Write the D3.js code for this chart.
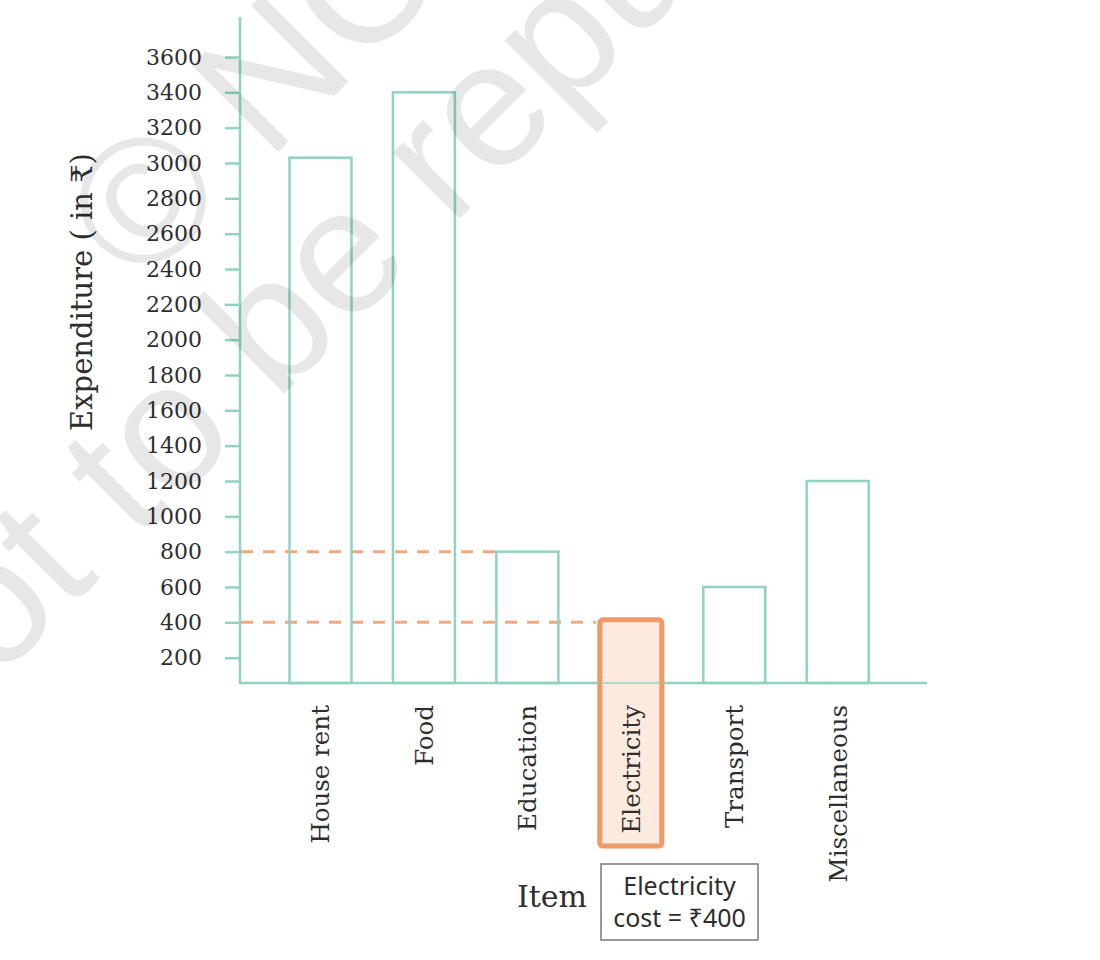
<!DOCTYPE html>
<html>
<head>
<meta charset="utf-8">
<script src="https://cdn.jsdelivr.net/npm/d3@7"></script>
<style>
  html, body { margin: 0; padding: 0; background: #ffffff; }
  svg { display: block; }
</style>
</head>
<body>
<svg id="chart" width="1100" height="960"></svg>
<script>
// ---- data ----
const categories = ["House rent", "Food", "Education", "Electricity", "Transport", "Miscellaneous"];
const expenditure = [3030, 3400, 800, 400, 600, 1200];
const yTicks = [200, 400, 600, 800, 1000, 1200, 1400, 1600, 1800, 2000, 2200, 2400, 2600, 2800, 3000, 3200, 3400, 3600];
const highlighted = "Electricity";
const guideItems = ["Education", "Electricity"];
const yTitle = "Expenditure ( in \u20B9)";
const xTitle = "Item";
const noteLines = ["Electricity", "cost = \u20B9400"];
const watermarkLines = ["\u00A9 NCERT", "not to be republished"];

// ---- styles / layout ----
const teal = "#8fd3c3";
const orange = "#ee9b68";
const orangeFill = "#fde6d8";
const textCol = "#2e2e2e";
const serif = "'DejaVu Serif', serif";
const sans = "'Noto Sans', 'Open Sans', sans-serif";

const svg = d3.select("#chart");
const axisX = 240, baseY = 683, axisTop = 17, axisRight = 927;

const y = d3.scaleLinear().domain([0, 3600]).range([693, 57]);
const x = d3.scalePoint().domain(categories).range([320.5, 837.7]);
const barW = 62;

// y axis
const yAxis = d3.axisLeft(y).tickValues(yTicks).tickSize(15).tickPadding(23).tickFormat(d3.format("d"));
const gy = svg.append("g").attr("transform", `translate(${axisX},0)`).call(yAxis);
gy.select(".domain").remove();
gy.selectAll(".tick line").attr("stroke", teal).attr("stroke-width", 2.5);
gy.selectAll(".tick text").attr("fill", textCol).attr("font-family", serif).attr("font-size", 22);

svg.append("line").attr("x1", axisX).attr("x2", axisX).attr("y1", axisTop).attr("y2", baseY + 1)
  .attr("stroke", teal).attr("stroke-width", 2.5);

// dashed guide lines
const data = categories.map((c, i) => ({ c, v: expenditure[i] }));
svg.append("g").selectAll("line").data(data.filter(d => guideItems.includes(d.c))).join("line")
  .attr("x1", axisX + 1).attr("x2", d => x(d.c) - barW / 2 - (d.c === highlighted ? 4 : 1))
  .attr("y1", d => y(d.v)).attr("y2", d => y(d.v))
  .attr("stroke", orange).attr("stroke-width", 3).attr("stroke-dasharray", "12 10").attr("opacity", 0.85);

// bars
svg.append("g").selectAll("rect").data(data.filter(d => d.c !== highlighted)).join("rect")
  .attr("x", d => x(d.c) - barW / 2).attr("width", barW)
  .attr("y", d => y(d.v)).attr("height", d => baseY - y(d.v))
  .attr("fill", "none").attr("stroke", teal).attr("stroke-width", 2.5);

// x axis line
svg.append("line").attr("x1", axisX).attr("x2", axisRight).attr("y1", baseY).attr("y2", baseY)
  .attr("stroke", teal).attr("stroke-width", 2.5);

// highlighted bar (extends down over its label)
const hd = data.find(d => d.c === highlighted);
svg.append("rect")
  .attr("x", x(hd.c) - barW / 2).attr("width", barW)
  .attr("y", y(hd.v) - 2.5).attr("height", 846 - (y(hd.v) - 2.5))
  .attr("rx", 3)
  .attr("fill", orangeFill).attr("fill-opacity", 0.8)
  .attr("stroke", orange).attr("stroke-width", 5);
svg.append("line").attr("x1", x(hd.c) - barW / 2 + 2).attr("x2", x(hd.c) + barW / 2 - 2).attr("y1", baseY).attr("y2", baseY)
  .attr("stroke", teal).attr("stroke-width", 2).attr("opacity", 0.6);

// category labels
svg.append("g").selectAll("text").data(categories).join("text")
  .attr("transform", c => `translate(${x(c)},705) rotate(-90)`)
  .attr("text-anchor", "end").attr("dy", "0.36em")
  .attr("font-family", serif).attr("font-size", 24.5).attr("fill", textCol)
  .text(c => c);

// axis titles
svg.append("text").attr("transform", "translate(82,292) rotate(-90)")
  .attr("text-anchor", "middle").attr("dy", "0.36em")
  .attr("font-family", serif).attr("font-size", 29).attr("fill", textCol).text(yTitle);
svg.append("text").attr("x", 552).attr("y", 907).attr("text-anchor", "middle")
  .attr("font-family", serif).attr("font-size", 30).attr("fill", textCol).text(xTitle);

// note box
svg.append("rect").attr("x", 601).attr("y", 864).attr("width", 157).attr("height", 76)
  .attr("fill", "#fff").attr("stroke", "#7a7a7a").attr("stroke-width", 1.5);
svg.append("g").selectAll("text").data(noteLines).join("text")
  .attr("x", 679.5).attr("y", (d, i) => 895 + i * 32).attr("text-anchor", "middle")
  .attr("font-family", sans).attr("font-size", 25).attr("fill", textCol).text(d => d);

// watermark
const wmStarts = [[140, 290], [-74, 752]];
svg.append("g").selectAll("text").data(watermarkLines).join("text")
  .attr("transform", (d, i) => `translate(${wmStarts[i][0]},${wmStarts[i][1]}) rotate(-45)`)
  .attr("font-family", "'Liberation Sans', Arial, sans-serif").attr("font-size", 178)
  .attr("fill", "#000").attr("fill-opacity", 0.095).text(d => d);
</script>
</body>
</html>
